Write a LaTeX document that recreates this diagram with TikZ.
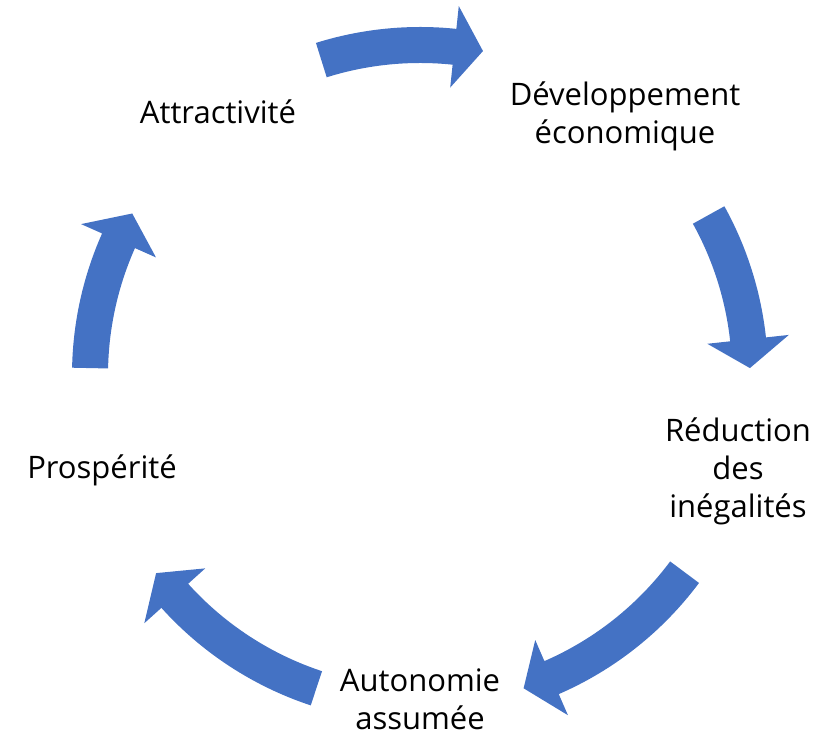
\documentclass[tikz,border=0pt]{standalone}
\usepackage{fontspec}
\setmainfont{Open Sans}
\usetikzlibrary{positioning}

\definecolor{arrowblue}{HTML}{4472C4}

\tikzset{
    cyclearrow/.style={fill=arrowblue, draw=none},
    steplabel/.style={font=\fontsize{31}{38}\selectfont, align=center, inner sep=0pt}
}

\begin{document}
\begin{tikzpicture}[x=1pt, y=1pt]

    \useasboundingbox (0,0) rectangle (833,735);

    % Labels
    \node[steplabel] (attract) at (218,623) {Attractivité};
    \node[steplabel] (dev) at (625,619) {Développement\\économique};
    \node[steplabel] (reduc) at (738,264) {Réduction\\des\\inégalités};
    \node[steplabel] (auton) at (420,36) {Autonomie\\assumée};
    \node[steplabel] (prosp) at (102,265) {Prospérité};

    % Arrows round the hub
    \begin{scope}[shift={(420,360)}]
        % top
        \fill[cyclearrow] (107.4:348) arc[start angle=107.4, end angle=84, radius=348]
            -- (84:371) -- (79:330) -- (84:289) -- (84:312)
            arc[start angle=84, end angle=107.4, radius=312] -- cycle;
        % right
        \fill[cyclearrow] (29:348) arc[start angle=29, end angle=6.2, radius=348]
            -- (6.2:371) -- (1.2:330) -- (6.2:289) -- (6.2:312)
            arc[start angle=6.2, end angle=29, radius=312] -- cycle;
        % bottom right
        \fill[cyclearrow] (-36.7:348) arc[start angle=-36.7, end angle=-66.5, radius=348]
            -- (-66.5:371) -- (-71.7:330) -- (-66.5:289) -- (-66.5:312)
            arc[start angle=-66.5, end angle=-36.7, radius=312] -- cycle;
        % bottom left
        \fill[cyclearrow] (-108.3:348) arc[start angle=-108.3, end angle=-138, radius=348]
            -- (-138:371) -- (-143.1:330) -- (-138:289) -- (-138:312)
            arc[start angle=-138, end angle=-108.3, radius=312] -- cycle;
        % left
        \fill[cyclearrow] (178.8:348) arc[start angle=178.8, end angle=156, radius=348]
            -- (156:371) -- (150.7:330) -- (156:289) -- (156:312)
            arc[start angle=156, end angle=178.8, radius=312] -- cycle;
    \end{scope}

\end{tikzpicture}
\end{document}
